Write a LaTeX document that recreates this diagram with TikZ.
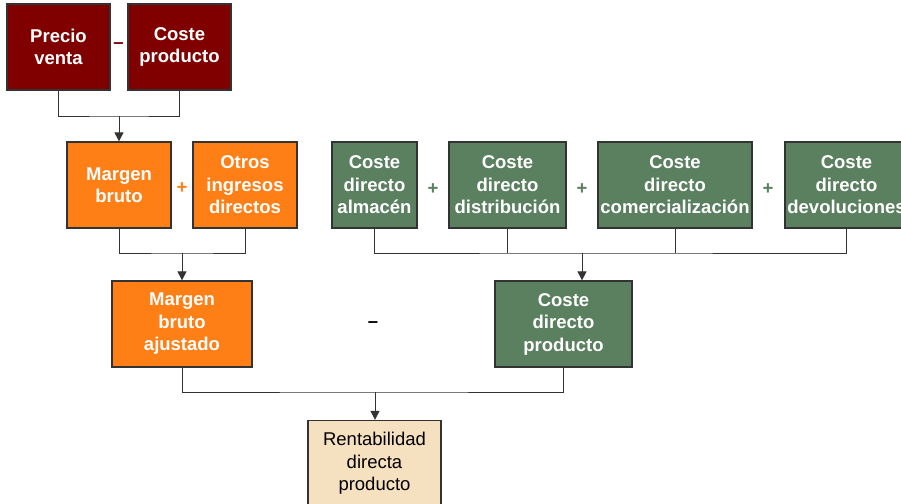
\documentclass[tikz,border=0pt]{standalone}
\usepackage{fontspec}
\setmainfont{Liberation Sans}
\usetikzlibrary{arrows.meta}
\definecolor{vino}{RGB}{128,0,0}
\definecolor{naranja}{RGB}{255,127,23}
\definecolor{verde}{RGB}{90,128,96}
\definecolor{trigo}{RGB}{245,224,192}
\definecolor{borde}{RGB}{51,51,51}
\tikzset{
	caja/.style={draw=borde,line width=1.3pt,minimum height=86,inner sep=1pt,align=center,
		font=\fontsize{18.5}{22.5}\selectfont\bfseries,text=white},
	signo/.style={font=\fontsize{18.5}{22.5}\selectfont\bfseries},
	linea/.style={draw=borde,line width=1pt},
	flecha/.style={linea,-{Triangle[length=9pt,width=9pt]}}
}
\begin{document}
\begin{tikzpicture}[x=1pt,y=-1pt]
\useasboundingbox (0,0) rectangle (901,503);
\clip (0,0) rectangle (901,503);
% fila superior
\node[caja,fill=vino,minimum width=103] (pv) at (58.5,47) {Precio\\venta};
\node[caja,fill=vino,minimum width=103] (cp) at (179.5,47) {Coste\\producto};
\node[signo,text=vino] (s1) at (118.5,46) {--};
% margen
\node[caja,fill=naranja,minimum width=104] (mb) at (119,185) {Margen\\bruto};
\node[caja,fill=naranja,minimum width=104] (oi) at (245,185) {Otros\\ingresos\\directos};
\node[signo,text=naranja] (s2) at (182,188) {+};
% costes directos
\node[caja,fill=verde,minimum width=85] (ca) at (374.5,185) {Coste\\directo\\almac\'en};
\node[caja,fill=verde,minimum width=117] (cd) at (507.5,185) {Coste\\directo\\distribuci\'on};
\node[caja,fill=verde,minimum width=154] (cc) at (675,185) {Coste\\directo\\comercializaci\'on};
\node[caja,fill=verde,minimum width=123] (cv) at (846.5,185) {Coste\\directo\\devoluciones};
\node[signo,text=verde] (s3) at (433,189) {+};
\node[signo,text=verde] (s4) at (582,189) {+};
\node[signo,text=verde] (s5) at (768,189) {+};
% tercera fila
\node[caja,fill=naranja,minimum width=140] (ma) at (182,324) {Margen\\bruto\\ajustado};
\node[caja,fill=verde,minimum width=137] (cdp) at (563.5,324) {Coste\\directo\\producto};
\node[signo,text=black] (s6) at (373,325) {--};
% resultado
\node[caja,fill=trigo,minimum width=133,font=\fontsize{18.5}{22.5}\selectfont,text=black] (rd) at (374.5,463.5) {Rentabilidad\\directa\\producto};
% uniones
\coordinate (j1) at (119,116);
\coordinate (j2) at (182,253);
\coordinate (j3) at (582,253);
\coordinate (j4) at (375,392);
\path[linea] (pv.south) |- (j1) -| (cp.south);
\path[linea] (mb.south) |- (j2) -| (oi.south);
\path[linea] (ca.south) |- (j3) -| (cv.south);
\path[linea] (cd.south) -- (cd.south|-j3);
\path[linea] (cc.south) -- (cc.south|-j3);
\path[linea] (ma.south) |- (j4) -| (cdp.south);
\draw[flecha] (j1) -- (j1|-mb.north);
\draw[flecha] (j2) -- (j2|-ma.north);
\draw[flecha] (j3) -- (j3|-cdp.north);
\draw[flecha] (j4) -- (j4|-rd.north);
\end{tikzpicture}
\end{document}
